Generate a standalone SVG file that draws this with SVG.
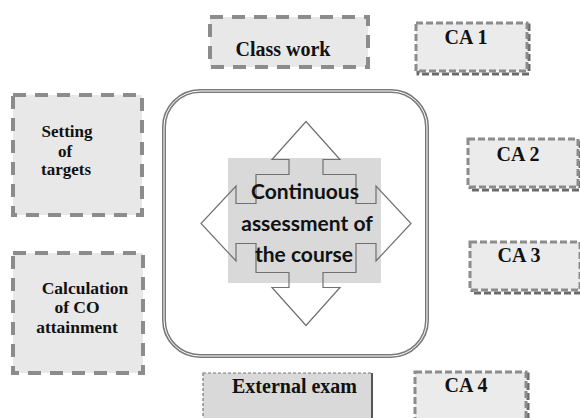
<svg xmlns="http://www.w3.org/2000/svg" width="580" height="418" viewBox="0 0 580 418">
<style>
.big{fill:#e8e8e8;stroke:#8c8c8c;stroke-width:4;stroke-dasharray:13 9}
.ca{fill:#ebebeb;stroke:#8c8c8c;stroke-width:3;stroke-dasharray:7 3}
.cas{fill:none;stroke:#6a6a6a;stroke-width:3;stroke-dasharray:7 3}
.t{font-family:"Liberation Serif","Times New Roman",serif;font-weight:bold;fill:#111;text-anchor:middle}
.c{font-family:Lato,"Liberation Sans",sans-serif;font-size:21px;font-weight:bold;fill:#111;text-anchor:middle}
</style>
<rect width="580" height="418" fill="#fff"/>
<g id="main">
<rect x="164" y="91" width="263" height="265" rx="36" fill="#fff" stroke="#7a7a7a" stroke-width="4"/>
<rect x="164" y="91" width="263" height="265" rx="36" fill="none" stroke="#fff" stroke-width="1"/>
<rect x="228" y="158" width="153" height="125" fill="#d9d9d9"/>
<path d="M306 121.5 L340 159.5 L323 159.5 L323 174.5 L356 174.5 L356 203.5 L376 203.5 L376 186 L411 223.5 L376 261 L376 243.5 L356 243.5 L356 272.5 L323 272.5 L323 287.5 L340 287.5 L306 325.5 L272 287.5 L289 287.5 L289 272.5 L256 272.5 L256 243.5 L236 243.5 L236 261 L201 223.5 L236 186 L236 203.5 L256 203.5 L256 174.5 L289 174.5 L289 159.5 L272 159.5 Z" fill="none" stroke="#707070" stroke-width="1.2"/>
<text class="c" x="305" y="199">Continuous</text>
<text class="c" x="307" y="231">assessment of</text>
<text class="c" x="304" y="262">the course</text>
</g>
<g id="classwork">
<rect class="big" x="210" y="17" width="158" height="50"/>
<text class="t" x="283" y="56" font-size="20">Class work</text>
</g>
<g id="setting">
<rect class="big" x="13" y="95" width="129" height="120"/>
<text class="t" font-size="17" x="67" y="137">Setting</text>
<text class="t" font-size="17" x="65" y="157">of</text>
<text class="t" font-size="17" x="66" y="175">targets</text>
</g>
<g id="calc">
<rect class="big" x="13" y="253" width="130" height="120"/>
<text class="t" font-size="17.5" x="85" y="294">Calculation</text>
<text class="t" font-size="17.5" x="77" y="313">of CO</text>
<text class="t" font-size="17.5" x="77" y="333">attainment</text>
</g>
<g id="external">
<rect x="203" y="373" width="169" height="50" fill="#d9d9d9" stroke="#777" stroke-width="1.2" stroke-dasharray="3 2"/>
<line x1="372" y1="373" x2="372" y2="418" stroke="#555" stroke-width="2"/>
<text class="t" x="294.5" y="393" font-size="20">External exam</text>
</g>
<g id="ca1">
<rect class="cas" x="418" y="25" width="111" height="49"/>
<rect class="ca" x="416" y="23" width="111" height="48"/>
<text class="t" x="466" y="44" font-size="20">CA 1</text>
</g>
<g id="ca2">
<rect class="cas" x="470" y="141" width="110" height="49"/>
<rect class="ca" x="468" y="139" width="110" height="48"/>
<text class="t" x="518" y="161" font-size="20">CA 2</text>
</g>
<g id="ca3">
<rect class="cas" x="472" y="244" width="110" height="49"/>
<rect class="ca" x="470" y="242" width="110" height="48"/>
<text class="t" x="519" y="262" font-size="20">CA 3</text>
</g>
<g id="ca4">
<rect class="cas" x="417" y="374" width="111" height="49"/>
<rect class="ca" x="415" y="372" width="111" height="50"/>
<text class="t" x="466" y="392" font-size="20">CA 4</text>
</g>
<g id="connectors"></g>
</svg>
